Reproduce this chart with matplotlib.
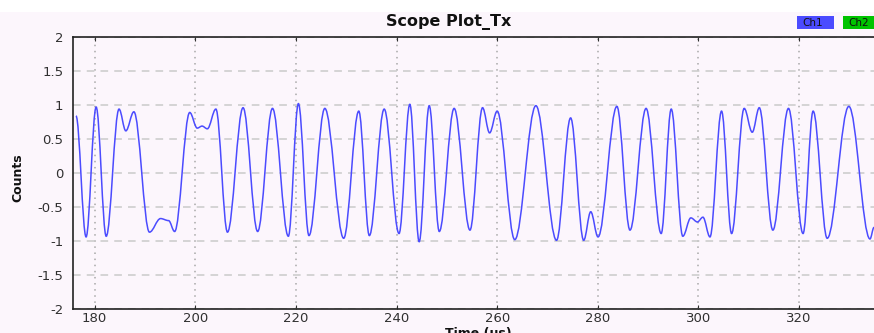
import matplotlib
matplotlib.use("Agg")
import matplotlib.pyplot as plt
from matplotlib.path import Path
from matplotlib.patches import PathPatch, Rectangle
from matplotlib.ticker import FuncFormatter

# extrema of the Ch1 trace (time in us, counts)
times = [176.3, 178.3, 180.3, 182.3, 184.85, 186.2, 187.8, 190.9, 193.1, 194.7,
         195.9, 198.9, 200.4, 201.35, 202.4, 204.1, 206.4, 209.5, 212.4, 215.35,
         218.5, 220.5, 222.6, 225.75, 229.5, 232.5, 234.6, 237.55, 240.5, 242.65,
         244.5, 246.5, 248.5, 251.45, 254.6, 257.1, 258.5, 260.0, 263.5, 267.7,
         271.8, 274.6, 277.2, 278.6, 280.05, 283.8, 286.4, 289.6, 292.6, 294.6,
         296.9, 298.5, 299.8, 300.9, 302.3, 304.6, 306.6, 309.1, 310.7, 312.1,
         314.8, 317.9, 320.8, 322.8, 325.6, 329.9, 334.1, 334.9]
values = [0.84, -0.94, 0.97, -0.93, 0.94, 0.62, 0.90, -0.87, -0.67, -0.70,
          -0.86, 0.89, 0.66, 0.69, 0.65, 0.94, -0.87, 0.96, -0.86, 0.95,
          -0.93, 1.02, -0.92, 0.95, -0.96, 0.91, -0.92, 0.94, -0.89, 1.01,
          -1.01, 0.99, -0.86, 0.95, -0.84, 0.96, 0.59, 0.91, -0.98, 0.99,
          -0.99, 0.81, -0.99, -0.57, -0.94, 0.98, -0.84, 0.95, -0.89, 0.94,
          -0.93, -0.66, -0.72, -0.65, -0.94, 0.91, -0.89, 0.95, 0.60, 0.96,
          -0.84, 0.95, -0.89, 0.91, -0.96, 0.98, -0.97, -0.80]

x_ticks = [180, 200, 220, 240, 260, 280, 300, 320]
y_ticks = [-2, -1.5, -1, -0.5, 0, 0.5, 1, 1.5, 2]
channels = ["Ch1", "Ch2"]
channel_colors = ["#4b4bff", "#00c400"]

plt.rcParams['axes.unicode_minus'] = False
bg = '#fcf6fc'
W, H = 874, 333

fig = plt.figure(figsize=(W / 100, H / 100), dpi=100, facecolor=bg)
fig.patches.append(Rectangle((0, 1 - 12 / H), 1, 12 / H, transform=fig.transFigure,
                             facecolor='white', edgecolor='none', zorder=0))

ax = fig.add_axes([73 / W, 24 / H, 1 - 73 / W, 272 / H])
ax.set_facecolor(bg)

# smooth trace through the extrema (horizontal tangent at each one)
k = 0.36
verts = [(times[0], values[0])]
codes = [Path.MOVETO]
for i in range(1, len(times)):
    t0, v0 = times[i - 1], values[i - 1]
    t1, v1 = times[i], values[i]
    d = t1 - t0
    verts += [(t0 + k * d, v0), (t1 - k * d, v1), (t1, v1)]
    codes += [Path.CURVE4] * 3
ax.add_patch(PathPatch(Path(verts, codes), facecolor='none',
                       edgecolor=channel_colors[0], lw=1.1, zorder=3))

ax.set_xlim(175.7, 334.9)
ax.set_ylim(-2, 2)
ax.set_xticks(x_ticks)
ax.set_yticks(y_ticks)
ax.yaxis.set_major_formatter(FuncFormatter(lambda v, p: f"{v:g}"))

ax.grid(axis='x', linestyle=(0, (1, 3)), color='#a8a8a8', lw=1.1)
ax.grid(axis='y', linestyle=(0, (5, 4)), color='#cacaca', lw=1.1)

for side in ['left', 'top', 'bottom']:
    ax.spines[side].set_color('#222222')
    ax.spines[side].set_linewidth(1.2)
ax.spines['right'].set_visible(False)

ax.tick_params(axis='x', direction='in', length=3, top=True, labelsize=9.5,
               pad=2, colors='#303030', width=0.8)
ax.tick_params(axis='y', length=0, labelsize=9.5, pad=7, colors='#303030')

fig.text(449 / W, 1 - 22 / H, "Scope Plot_Tx", ha='center', va='center',
         fontsize=11.5, weight='bold', color='#111111')
fig.text(478 / W, 1 - 333 / H, "Time (us)", ha='center', va='center',
         fontsize=9, weight='bold', color='#111111')
fig.text(18 / W, 1 - 178 / H, "Counts", ha='center', va='center', rotation=90,
         fontsize=9, weight='bold', color='#111111')

# channel legend boxes in the top right corner
box_x = [797, 843]
for name, col, bx in zip(channels, channel_colors, box_x):
    fig.patches.append(Rectangle((bx / W, 1 - 29 / H), 37 / W, 13 / H,
                                 transform=fig.transFigure, facecolor=col,
                                 edgecolor='none', zorder=1))
    fig.text((bx + 5) / W, 1 - 22.5 / H, name, ha='left', va='center',
             fontsize=7.5, color='#111111', zorder=2)

fig.savefig("out.png", dpi=100, facecolor=bg)
